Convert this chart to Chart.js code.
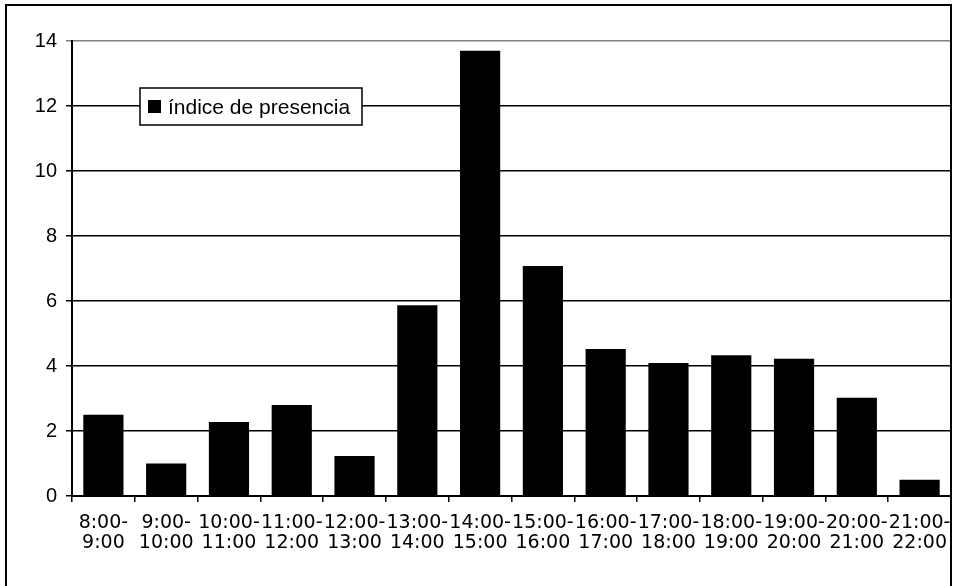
<!DOCTYPE html>
<html>
<head>
<meta charset="utf-8">
<script src="https://cdn.jsdelivr.net/npm/chart.js@4/dist/chart.umd.min.js"></script>
<style>
  html, body { margin: 0; padding: 0; background: #fff; }
  #wrap { width: 958px; height: 586px; position: relative; }
</style>
</head>
<body>
<div id="wrap"><canvas id="chart" width="958" height="586"></canvas></div>
<script>
const hours = [
  ['8:00-', '9:00'], ['9:00-', '10:00'], ['10:00-', '11:00'], ['11:00-', '12:00'],
  ['12:00-', '13:00'], ['13:00-', '14:00'], ['14:00-', '15:00'], ['15:00-', '16:00'],
  ['16:00-', '17:00'], ['17:00-', '18:00'], ['18:00-', '19:00'], ['19:00-', '20:00'],
  ['20:00-', '21:00'], ['21:00-', '22:00']
]
const presencia = [2.5, 1.0, 2.28, 2.8, 1.23, 5.87, 13.7, 7.08, 4.52, 4.09, 4.33, 4.22, 3.02, 0.5]
const seriesName = 'índice de presencia'

// outer frame + legend box inside the plot
const frameAndLegend = {
  id: 'frameAndLegend',
  afterDraw(chart){
    const ctx = chart.ctx
    ctx.save()
    ctx.strokeStyle = '#000'
    ctx.lineWidth = 2
    ctx.strokeRect(6, 5, 945, 620)

    const x = 140, y = 88, w = 222, h = 37
    ctx.fillStyle = '#fff'
    ctx.fillRect(x, y, w, h)
    ctx.lineWidth = 1.5
    ctx.strokeRect(x, y, w, h)
    ctx.fillStyle = '#000'
    ctx.fillRect(148, 100, 13, 13)
    ctx.font = '21px "Liberation Sans", Arial, sans-serif'
    ctx.textBaseline = 'alphabetic'
    ctx.fillText(chart.data.datasets[0].label, 168, 114)
    ctx.restore()
  }
}

new Chart(document.getElementById('chart'), {
  type: 'bar',
  data: {
    labels: hours,
    datasets: [{
      label: seriesName,
      data: presencia,
      backgroundColor: '#000',
      borderWidth: 0,
      categoryPercentage: 1,
      barPercentage: 0.64
    }]
  },
  options: {
    responsive: false,
    animation: false,
    layout: { padding: { top: 41, right: 7, bottom: 0, left: 0 } },
    plugins: { legend: { display: false }, tooltip: { enabled: false } },
    scales: {
      x: {
        afterFit: s => { s.height = 90; s.paddingLeft = 0; s.paddingRight = 0 },
        grid: { display: true, drawOnChartArea: false, offset: true, tickLength: 6, color: '#000', lineWidth: 1.5 },
        border: { display: true, color: '#000', width: 2 },
        ticks: {
          color: '#000', maxRotation: 0, minRotation: 0, autoSkip: false, padding: 11,
          font: { family: 'DejaVu Sans', size: 19, lineHeight: 1.05 }
        }
      },
      y: {
        min: 0, max: 14,
        afterFit: s => { s.width = 72 },
        grid: {
          color: c => c.tick && c.tick.value === 14 ? '#808080' : '#000',
          lineWidth: 1.5, tickLength: 6
        },
        border: { display: true, color: '#000', width: 2 },
        ticks: {
          stepSize: 2, color: '#000', padding: 9,
          font: { family: '"Liberation Sans", Arial, sans-serif', size: 20 }
        }
      }
    }
  },
  plugins: [frameAndLegend]
})
</script>
</body>
</html>
